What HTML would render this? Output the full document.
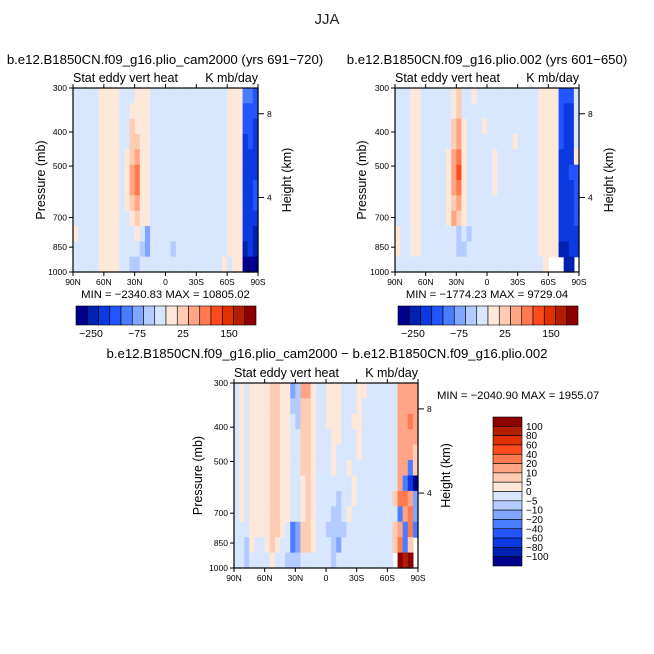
<!DOCTYPE html>
<html><head><meta charset="utf-8"><style>
html,body{margin:0;padding:0;background:#fff;}
svg{display:block;font-family:"Liberation Sans",sans-serif;}
</style></head><body>
<svg id="fig" width="654" height="654" viewBox="0 0 654 654">
<rect width="654" height="654" fill="#fff"/>
<text x="327" y="24" font-size="15" text-anchor="middle" fill="#222">JJA</text>
</svg>
<script>
// ---- data ----
const palette = ['#00008c','#0022b0','#0a3ae0','#2255ff','#4a7cff','#80a6ff','#b4cbff','#d8e7fd','#fee8da','#ffcbb2','#ffa585','#ff7a50','#ff4a1e','#e03000','#b41e00','#8c0000'];
const latLabels = ['90N','60N','30N','0','30S','60S','90S'];
const presLabels = [300,400,500,700,850,1000];
const heightLabels = [8,4];
const topCbLabels = ['-250','-75','25','150'];
const diffCbLabels = ['100','80','60','40','20','10','5','0','-5','-10','-20','-40','-60','-80','-100'];
const gridA = [
"777778888777888777777777777777888443",
"777778888778888777777777777777888333",
"777778888779888777777777777777888332",
"777778888779988777777777777777888232",
"777778888789a88777777777777777888222",
"77777888878ab88777777777777777888222",
"77777888878ab88777777777777777888223",
"777778888789a88777777777777777888223",
"777778888778988777777777777777888222",
"877778888777875777777777777777888221",
"777778888777765777767777777777888121",
"777778888776677777777777777778788000"];
const gridB = [
"777887777778977877777777777788883337",
"777887777778977777777777777788883227",
"777887777779a87778777777777788883227",
"777887777779a87777777778777788883227",
"77788777778ab87777787777777788882228",
"77788777778ac87777787777777788882233",
"77788777778ab87777787777777788882223",
"777887777789a87777777777777788882223",
"77788777778a987777777777777788882223",
"877887777777676777777777777788882222",
"877887777777667777777777777788881122",
"777777777777777777777777777778   11 "];
const gridC = [
"78788889988"+"56"+"aa8"+"77"+"888"+"7778877"+"7777"+"aaaa",
"78788889988"+"66"+"998"+"77"+"888"+"7778777"+"7777"+"aaaa",
"78788889988"+"76"+"998"+"77"+"888"+"7788777"+"7777"+"aaba",
"78788889988"+"77"+"998"+"77"+"788"+"7778777"+"7777"+"aaaa",
"78788889988"+"77"+"998"+"77"+"787"+"7778777"+"7777"+"aaa9",
"78788889988"+"77"+"998"+"77"+"787"+"7877777"+"7777"+"aa49",
"78788889988"+"77"+"898"+"77"+"777"+"7787777"+"7777"+"a420",
"78788889988"+"77"+"898"+"77"+"776"+"7787777"+"7779"+"bba5",
"78788889988"+"77"+"898"+"77"+"766"+"7877777"+"7777"+"4ab5",
"77788889987"+"45"+"998"+"77"+"666"+"6777777"+"7779"+"a4b4",
"77687789877"+"45"+"998"+"77"+"765"+"7777777"+"7779"+"b49 ",
"77677778776"+"66"+"777"+"77"+"767"+"7777777"+"777 "+"fef "];
const minmaxA = 'MIN = \u22122340.83    MAX = 10805.02';
const minmaxB = 'MIN = \u22121774.23    MAX = 9729.04';
const minmaxC = 'MIN = \u22122040.90    MAX = 1955.07';
// ---- drawing ----
const NS='http://www.w3.org/2000/svg';
const svg=document.getElementById('fig');
function el(tag,attrs,parent){const e=document.createElementNS(NS,tag);for(const k in attrs)e.setAttribute(k,attrs[k]);(parent||svg).appendChild(e);return e;}
function txt(s,attrs,parent){const e=el('text',attrs,parent);e.textContent=s;return e;}
function pFrac(p){return (Math.log(p)-Math.log(300))/(Math.log(1000)-Math.log(300));}
function hFrac(km){return 0.14+(8-km)*(0.595-0.14)/4;}
function panel(name,x0,y0,w,h,grid,title,minmax,plx,phx,mmx,mmy){
  const g=el('g',{},svg);
  
  
  const rows=grid.length;
  const cols=36;
  const cw=w/cols, rh=h/rows;
  for(let r=0;r<rows;r++)for(let c=0;c<cols;c++){
    const ch=grid[r][c]; if(ch===undefined||ch===' ')continue;
    const cell=el('rect',{x:(x0+c*cw).toFixed(2),y:(y0+r*rh).toFixed(2),width:(cw+0.6).toFixed(2),height:(rh+0.6).toFixed(2),fill:palette[parseInt(ch,16)]},g);
    
    
  }
  const fr=el('rect',{x:x0,y:y0,width:w,height:h,fill:'none',stroke:'#000','stroke-width':1.2},g);
  
  
  latLabels.forEach((l,i)=>{const x=x0+w*i/(latLabels.length-1);
    el('line',{x1:x,y1:y0+h,x2:x,y2:y0+h+4,stroke:'#000'},g);
    el('line',{x1:x,y1:y0,x2:x,y2:y0-4,stroke:'#000'},g);
    const t=txt(l,{x:x,y:y0+h+13,'font-size':8.5,'text-anchor':'middle'},g);
    
    
  });
  presLabels.forEach(p=>{const y=y0+h*pFrac(p);
    el('line',{x1:x0,y1:y,x2:x0-4,y2:y,stroke:'#000'},g);
    const t=txt(String(p),{x:x0-6,y:y+3,'font-size':8.5,'text-anchor':'end'},g);
    
    
  });
  heightLabels.forEach(km=>{const y=y0+h*hFrac(km);
    el('line',{x1:x0+w,y1:y,x2:x0+w+6,y2:y,stroke:'#000'},g);
    const t=txt(String(km),{x:x0+w+9,y:y+3,'font-size':8.5},g);
    
    
  });
  const pt=txt('Pressure (mb)',{x:plx,y:y0+h/2,'font-size':12.5,'text-anchor':'middle',transform:`rotate(-90 ${plx} ${y0+h/2})`},g);
  
  
  const ht=txt('Height (km)',{x:phx,y:y0+h/2,'font-size':12.5,'text-anchor':'middle',transform:`rotate(-90 ${phx} ${y0+h/2})`},g);
  
  
  const s1=txt('Stat eddy vert heat',{x:x0,y:y0-6,'font-size':12.5},g);
  
  
  const s2=txt('K mb/day',{x:x0+w,y:y0-6,'font-size':12.5,'text-anchor':'end'},g);
  
  
  const tt=txt(title.t,{x:title.x,y:title.y,'font-size':13.2,'text-anchor':'middle'},g);
  
  
  const mm=txt(minmax,{x:mmx<0?x0+w/2:mmx,y:mmy,'font-size':11.3,'text-anchor':mmx<0?'middle':'start'},g);
  
  
}
panel('panel-cam2000',73,88,185,184,gridA,{t:'b.e12.B1850CN.f09_g16.plio_cam2000 (yrs 691\u2212720)',x:165,y:64},minmaxA,45,291,-1,298);
panel('panel-plio002',395,88,184,184,gridB,{t:'b.e12.B1850CN.f09_g16.plio.002 (yrs 601\u2212650)',x:487,y:64},minmaxB,366,613,-1,298);
panel('panel-difference',234,383,184,185,gridC,{t:'b.e12.B1850CN.f09_g16.plio_cam2000 \u2212 b.e12.B1850CN.f09_g16.plio.002',x:327,y:358},minmaxC,202,450,437,399);
function hbar(name,x0,y0,w,h,labelX){
  const g=el('g',{},svg);
  
  
  const bw=w/palette.length;
  palette.forEach((c,i)=>{const b=el('rect',{x:x0+i*bw,y:y0,width:bw,height:h,fill:c,stroke:'#000','stroke-width':0.6},g);
    
    });
  topCbLabels.forEach((l,i)=>{const t=txt(l.replace('-','\u2212'),{x:labelX[i],y:y0+h+12,'font-size':10.5,'text-anchor':'middle'},g);
    
    });
}
hbar('colorbar-cam2000',76,306,180,19,[91,137,183,229]);
hbar('colorbar-plio002',398,306,180,19,[413,459,505,551]);
(function(){
  const g=el('g',{},svg);
  
  
  const x0=493,y0=417,w=29,h=149,n=palette.length,bh=h/n;
  for(let i=0;i<n;i++){const b=el('rect',{x:x0,y:y0+i*bh,width:w,height:bh,fill:palette[n-1-i],stroke:'#000','stroke-width':0.6},g);
    
    }
  diffCbLabels.forEach((l,i)=>{const t=txt(l.replace('-','\u2212'),{x:x0+w+4,y:y0+(i+1)*bh+3.5,'font-size':10},g);
    
    });
})();
</script>
</body></html>
